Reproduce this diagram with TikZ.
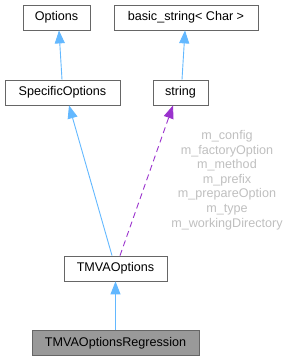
\documentclass[tikz,border=0pt]{standalone}
\usepackage{fontspec}
\setmainfont{Liberation Sans}
\usetikzlibrary{arrows.meta}
\definecolor{edgeblue}{HTML}{63B8FF}
\definecolor{edgepurple}{HTML}{9A32CD}
\definecolor{boxborder}{HTML}{666666}
\definecolor{labelgray}{HTML}{BFBFBF}
\definecolor{boxgray}{HTML}{999999}
\begin{document}
\begin{tikzpicture}[x=1pt,y=-1pt,
  cls/.style={draw=boxborder, fill=white, line width=0.8pt, minimum height=25pt, inner sep=0pt, font=\fontsize{12.6}{14}\selectfont, text=black},
  inh/.style={draw=edgeblue, line width=0.9pt, -{Triangle[width=10pt,length=13pt]}},
  use/.style={draw=edgepurple, line width=0.9pt, dash pattern=on 6pt off 4pt, -{Triangle[width=10pt,length=13pt]}},
]
\useasboundingbox (0,0) rectangle (291,361);
\node[cls, minimum width=67pt] (opt) at (56.5,17.5) {Options};
\node[cls, minimum width=144pt] (bstr) at (186,17.5) {basic\_string< Char >};
\node[cls, minimum width=115pt] (spec) at (62.5,92.5) {SpecificOptions};
\node[cls, minimum width=55pt] (str) at (180.5,92.5) {string};
\node[cls, minimum width=103pt] (tmva) at (115.5,268.5) {TMVAOptions};
\node[cls, fill=boxgray, minimum width=167pt] (reg) at (115.5,343) {TMVAOptionsRegression};
\node[align=center, text=labelgray, inner sep=0pt, font=\fontsize{12.6}{14.6}\selectfont] (lbl) at (227,180) {m\_config\\m\_factoryOption\\m\_method\\m\_prefix\\m\_prepareOption\\m\_type\\m\_workingDirectory};
\draw[inh] ([xshift=-0.5pt]spec.north) -- ([xshift=2.5pt]opt.south);
\draw[inh] ([xshift=1.5pt]str.north) -- ([xshift=-1pt]bstr.south);
\draw[inh] ([xshift=-3.5pt]tmva.north) -- ([xshift=6.5pt]spec.south);
\draw[use] ([xshift=4.5pt]tmva.north) -- ([xshift=-7.5pt]str.south);
\draw[inh] (reg.north) -- (tmva.south);
\end{tikzpicture}
\end{document}
